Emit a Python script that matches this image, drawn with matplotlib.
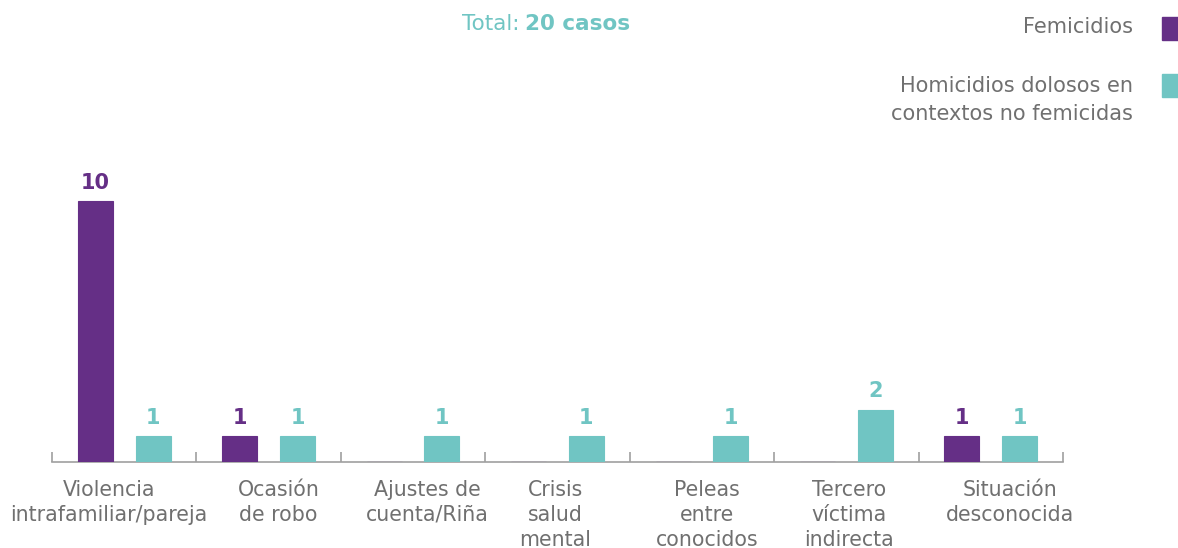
import matplotlib.pyplot as plt
import matplotlib.patches as mpatches
import matplotlib.transforms as mtransforms
import numpy as np

categories = ["Violencia\nintrafamiliar/pareja", "Ocasión\nde robo", "Ajustes de\ncuenta/Riña",
              "Crisis\nsalud\nmental", "Peleas\nentre\nconocidos", "Tercero\nvíctima\nindirecta",
              "Situación\ndesconocida"]
femicidios = [10, 1, 0, 0, 0, 0, 1]
homicidios = [1, 1, 1, 1, 1, 2, 1]
series_names = ["Femicidios", "Homicidios dolosos en\ncontextos no femicidas"]

# horizontal nudges of the category labels, in pixels (as laid out in the source)
label_shift = [-15, 10, 14, -2, 5, 3, 19]

PURPLE = "#652f86"
TEAL = "#70c5c3"
GRAY = "#707070"

plt.rcParams['font.family'] = ['DejaVu Sans']

fig = plt.figure(figsize=(11.78, 5.48), dpi=100)
ax = fig.add_axes([52/1178, 1 - 462/548, (1063 - 52)/1178, (462 - 140)/548])

x = np.arange(len(categories))
w = 0.242
off = 0.2
b1 = ax.bar(x - off, femicidios, w, color=PURPLE, edgecolor=PURPLE, linewidth=0.8, zorder=3)
b2 = ax.bar(x + off, homicidios, w, color=TEAL, edgecolor=TEAL, linewidth=0.8, zorder=3)

for bars, vals, col in [(b1, femicidios, PURPLE), (b2, homicidios, TEAL)]:
    for r, v in zip(bars, vals):
        if v > 0:
            ax.annotate(str(v), (r.get_x() + r.get_width() / 2, v), xytext=(0, 6),
                        textcoords="offset points", ha="center", va="bottom",
                        fontsize=15, fontweight="bold", color=col)

ax.set_xlim(-0.5, len(categories) - 0.5)
ax.set_ylim(0, 322 / 26.1)
for s in ["top", "right", "left"]:
    ax.spines[s].set_visible(False)
ax.spines["bottom"].set_color("#a0a0a0")
ax.spines["bottom"].set_linewidth(1.2)
ax.set_yticks([])
ax.set_xticks(x)
ax.set_xticklabels(categories, fontsize=14.8, color=GRAY, linespacing=1.3, va="top")
ax.tick_params(axis="x", which="major", length=0, pad=13)
ax.set_xticks(np.arange(-0.5, len(categories), 1), minor=True)
ax.tick_params(axis="x", which="minor", direction="in", length=7, color="#a0a0a0", width=1.2)

for lab, dx in zip(ax.get_xticklabels(), label_shift):
    lab.set_transform(lab.get_transform() + mtransforms.ScaledTranslation(dx / 100, 0, fig.dpi_scale_trans))

# title
fig.text(519/1178, 1 - 24/548, "Total:", ha="right", va="center", fontsize=15.5, color=TEAL)
fig.text(525/1178, 1 - 24/548, "20 casos", ha="left", va="center", fontsize=15.5,
         fontweight="bold", color=TEAL)

# legend
fig.text(1133/1178, 1 - 27/548, series_names[0], ha="right", va="center", fontsize=15, color=GRAY)
fig.text(1133/1178, 1 - 100/548, series_names[1], ha="right", va="center", fontsize=15, color=GRAY,
         linespacing=1.45)
fig.patches.append(mpatches.Rectangle((1162/1178, 1 - 40/548), 16/1178, 23/548,
                                      transform=fig.transFigure, color=PURPLE))
fig.patches.append(mpatches.Rectangle((1162/1178, 1 - 97/548), 16/1178, 23/548,
                                      transform=fig.transFigure, color=TEAL))

fig.savefig("out.png", dpi=100)
